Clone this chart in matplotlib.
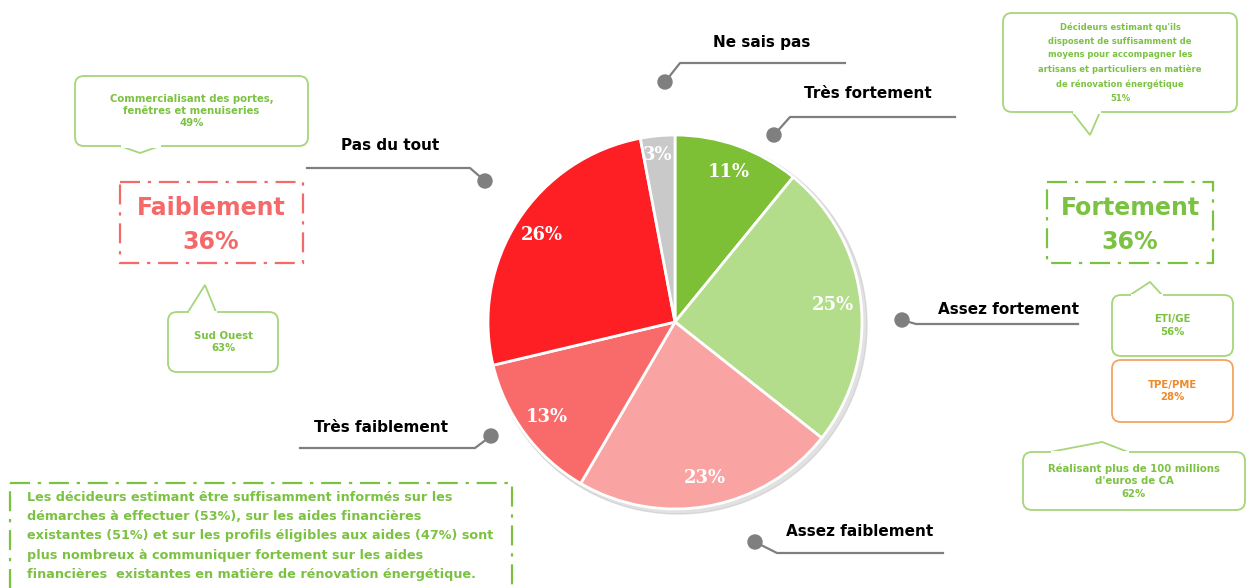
import matplotlib.pyplot as plt
from matplotlib.patches import Rectangle, FancyBboxPatch, Polygon, Circle

# Pie data (clockwise from 12 o'clock)
categories = ['Très fortement', 'Assez fortement', 'Assez faiblement',
              'Très faiblement', 'Pas du tout', 'Ne sais pas']
values = [11, 25, 23, 13, 26, 3]
colors = ['#7dbf35', '#b3dd8a', '#f9a3a3', '#f96b6b', '#fe1f25', '#c9c9c9']

# label anchor positions (text centre, leader line ending at the dot)
label_pos = {
    'Ne sais pas':      dict(text=(762, 42),  line=[(845, 63), (680, 63), (665, 82)]),
    'Très fortement':   dict(text=(868, 94),  line=[(955, 117), (790, 117), (774, 135)]),
    'Assez fortement':  dict(text=(1008, 310), line=[(1078, 324), (916, 324), (902, 320)]),
    'Assez faiblement': dict(text=(860, 531), line=[(943, 553), (777, 553), (755, 542)]),
    'Très faiblement':  dict(text=(381, 427), line=[(300, 448), (475, 448), (491, 436)]),
    'Pas du tout':      dict(text=(390, 145), line=[(307, 168), (470, 168), (485, 181)]),
}

summary = ['Faiblement', '36%', 'Fortement', '36%']
note = ("Les décideurs estimant être suffisamment informés sur les\n"
        "démarches à effectuer (53%), sur les aides financières\n"
        "existantes (51%) et sur les profils éligibles aux aides (47%) sont\n"
        "plus nombreux à communiquer fortement sur les aides\n"
        "financières  existantes en matière de rénovation énergétique.")

GREEN = '#7cc242'
LGREEN = '#a6d57a'
SALMON = '#f46a6a'
ORANGE = '#ef8a2a'
GREY = '#7f7f7f'

W, H = 1252, 588
fig = plt.figure(figsize=(W / 100, H / 100), dpi=100)
ax = fig.add_axes([0, 0, 1, 1])
ax.set_xlim(0, W)
ax.set_ylim(H, 0)
ax.set_aspect('equal')
ax.axis('off')

cx, cy, r = 675, 322, 187

# soft shadow
ax.add_patch(Circle((cx + 3, cy + 3), r + 2, color='#bdbdbd', alpha=0.45, zorder=1))

wedges, texts, autotexts = ax.pie(
    values, colors=colors, startangle=-90, counterclock=True,
    center=(cx, cy), radius=r, autopct='%d', pctdistance=0.85,
    wedgeprops=dict(edgecolor='white', linewidth=2),
    textprops=dict(color='white', fontsize=13, fontweight='bold', family='DejaVu Serif'),
    frame=True)
for w in wedges:
    w.set_zorder(2)
for t, v in zip(autotexts, values):
    t.set_text(f'{v}%')
    t.set_zorder(3)
autotexts[-1].set_position((658, 155))
ax.set_xlim(0, W)
ax.set_ylim(H, 0)
ax.axis('off')

# category labels with leader lines
for name in categories:
    p = label_pos[name]
    ax.text(*p['text'], name, ha='center', va='center', fontsize=11,
            fontweight='bold', color='black')
    xs, ys = zip(*p['line'])
    ax.plot(xs, ys, color=GREY, lw=1.6, zorder=4)
    ax.add_patch(Circle(p['line'][-1], 7, color=GREY, zorder=5))

dashdot = (0, (9, 3.5, 1.5, 3.5))

# summary boxes
ax.add_patch(Rectangle((120, 182), 183, 81, fill=False, ec=SALMON, lw=1.6, ls=dashdot))
ax.text(211, 208, summary[0], ha='center', va='center', fontsize=17, fontweight='bold', color=SALMON)
ax.text(211, 242, summary[1], ha='center', va='center', fontsize=17, fontweight='bold', color=SALMON)
ax.add_patch(Rectangle((1047, 182), 166, 81, fill=False, ec=GREEN, lw=1.6, ls=dashdot))
ax.text(1130, 208, summary[2], ha='center', va='center', fontsize=17, fontweight='bold', color=GREEN)
ax.text(1130, 242, summary[3], ha='center', va='center', fontsize=17, fontweight='bold', color=GREEN)


def callout(x0, y0, x1, y1, tail, text, color=GREEN, edge=LGREEN, fs=7.3, ls=1.3):
    ax.add_patch(FancyBboxPatch((x0, y0), x1 - x0, y1 - y0,
                                boxstyle='round,pad=0,rounding_size=9',
                                fc='white', ec=edge, lw=1.3, zorder=6))
    if tail:
        ax.add_patch(Polygon(tail, closed=False, fill=False, ec=edge, lw=1.3, zorder=7))
        (ax_, ay_), (bx_, by_) = tail[0], tail[-1]
        ax.plot([ax_ + 1.5, bx_ - 1.5], [ay_, by_], color='white', lw=2.2, zorder=7)
    ax.text((x0 + x1) / 2, (y0 + y1) / 2, text, ha='center', va='center',
            fontsize=fs, fontweight='bold', color=color, linespacing=ls, zorder=8)


callout(75, 76, 308, 146, [(120, 146), (140, 153), (160, 146)],
        'Commercialisant des portes,\nfenêtres et menuiseries\n49%')
callout(168, 312, 278, 372, [(188, 312), (205, 285), (216, 312)],
        'Sud Ouest\n63%')
callout(1003, 13, 1237, 112, [(1072, 112), (1090, 135), (1100, 112)],
        "Décideurs estimant qu'ils\ndisposent de suffisamment de\nmoyens pour accompagner les\n"
        "artisans et particuliers en matière\nde rénovation énergétique\n51%", fs=6.0, ls=1.7)
callout(1112, 295, 1233, 356, [(1130, 295), (1150, 282), (1162, 295)],
        'ETI/GE\n56%')
callout(1112, 360, 1233, 422, None, 'TPE/PME\n28%', color=ORANGE, edge='#f2a560')
callout(1023, 452, 1245, 510, [(1050, 452), (1102, 442), (1128, 452)],
        "Réalisant plus de 100 millions\nd'euros de CA\n62%")

# bottom note
ax.add_patch(Rectangle((10, 483), 502, 130, fill=False, ec=GREEN, lw=1.6, ls=dashdot))
ax.text(27, 536, note, ha='left', va='center', fontsize=9.2, fontweight='bold',
        color=GREEN, linespacing=1.62)

fig.savefig('out.png', dpi=100)
